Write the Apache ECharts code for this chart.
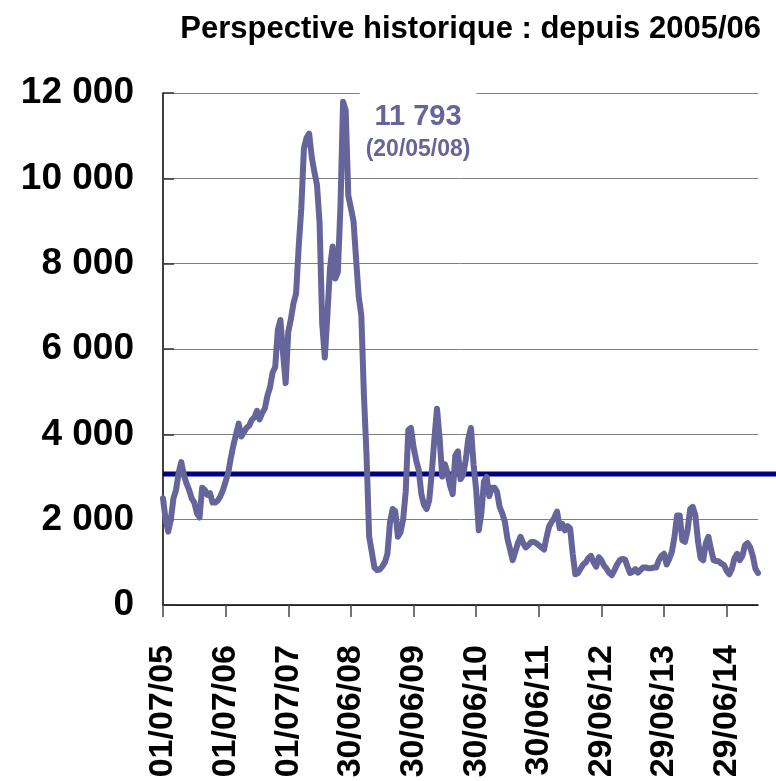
<!DOCTYPE html>
<html lang="fr">
<head>
    <meta charset="UTF-8">
    <title>Perspective historique</title>
    <script src="https://cdn.jsdelivr.net/npm/echarts@6/dist/echarts.min.js"></script>
    <style>
        html, body { margin: 0; padding: 0; background: #fff; }
        #chart { width: 776px; height: 781px; }
    </style>
</head>
<body>
<div id="chart"></div>
<script type="text/javascript">
    // valeurs, 2 points par mois (1er et 16), de juillet a juin
    var y0506 = [2500, 2000, 1720, 2000, 2500, 2700, 3100, 3350, 3050, 2850, 2700, 2500, 2400, 2150, 2050, 2750, 2700, 2580, 2620, 2400, 2400, 2450, 2550, 2700];
    var y0607 = [2900, 3100, 3450, 3750, 4000, 4250, 3950, 4050, 4150, 4200, 4340, 4400, 4550, 4350, 4500, 4600, 4900, 5100, 5450, 5580, 6450, 6680, 5900, 5200];
    var y0708 = [6400, 6700, 7070, 7300, 8400, 9300, 10700, 10950, 11050, 10500, 10150, 9850, 8950, 6600, 5800, 6800, 7900, 8400, 7650, 7800, 9350, 11793, 11600, 9600];
    var y0809 = [9300, 9000, 8100, 7230, 6780, 4900, 3500, 1600, 1250, 880, 820, 830, 900, 1000, 1200, 1950, 2250, 2200, 1600, 1700, 2000, 2650, 4100, 4150];
    var y0910 = [3700, 3400, 3160, 2600, 2350, 2250, 2450, 3100, 3900, 4600, 3900, 3010, 3300, 3100, 2800, 2600, 3500, 3600, 2950, 3050, 3400, 3900, 4150, 3300];
    var y1011 = [2700, 1750, 2150, 2900, 3000, 2550, 2750, 2750, 2650, 2300, 2150, 1950, 1550, 1300, 1050, 1250, 1450, 1600, 1450, 1350, 1400, 1470, 1480, 1450];
    var y1112 = [1400, 1350, 1300, 1600, 1850, 1950, 2050, 2190, 1800, 1900, 1750, 1850, 1800, 1200, 720, 750, 850, 950, 1000, 1100, 1150, 1000, 900, 1120];
    var y1213 = [1050, 920, 850, 750, 700, 820, 950, 1050, 1080, 1070, 900, 750, 780, 840, 760, 820, 880, 880, 860, 860, 880, 880, 1050, 1150];
    var y1314 = [1200, 950, 1080, 1250, 1600, 2100, 2100, 1520, 1480, 1750, 2250, 2300, 2100, 1500, 1100, 1050, 1450, 1600, 1300, 1050, 1030, 1020, 970, 930];
    var y1415 = [800, 720, 850, 1100, 1200, 1050, 1150, 1400, 1450, 1350, 1150, 850, 750];

    var tickLabels = ['01/07/05', '01/07/06', '01/07/07', '30/06/08', '30/06/09', '30/06/10', '30/06/11', '29/06/12', '29/06/13', '29/06/14'];
    var moyenne = 3070;
    var pic = { valeur: 11793, date: '20/05/08' };

    // assemblage
    var values = [].concat(y0506, y0607, y0708, y0809, y0910, y1011, y1112, y1213, y1314, y1415);
    var dates = [];
    for (var i = 0; i < values.length; i++) {
        var m = Math.floor(i / 2);
        var mois = (6 + m) % 12 + 1;
        var an = 5 + Math.floor((6 + m) / 12);
        dates.push((i % 2 ? '16' : '01') + '/' + (mois < 10 ? '0' : '') + mois + '/' + (an < 10 ? '0' : '') + an);
    }

    function espace(v) {
        return String(v).replace(/\B(?=(\d{3})+(?!\d))/g, ' ');
    }

    var couleurLigne = '#65659B';
    var police = 'Liberation Sans, Arial, sans-serif';

    var chart = echarts.init(document.getElementById('chart'));

    var option = {
        animation: false,
        title: {
            text: 'Perspective historique : depuis 2005/06',
            right: 10,
            top: 9,
            textStyle: { fontFamily: police, fontWeight: 'bold', fontSize: 31, color: '#000' }
        },
        grid: [
            { left: 163, top: 93, right: 18, bottom: 176 },
            { left: 163, top: 93, right: 0, bottom: 176 }
        ],
        xAxis: [
            {
                type: 'category',
                gridIndex: 0,
                data: dates,
                boundaryGap: false,
                axisLine: { lineStyle: { color: '#000', width: 1.5 } },
                axisTick: {
                    show: true,
                    length: 12,
                    interval: function (idx) { return idx % 24 === 0; },
                    lineStyle: { color: '#444', width: 1.5 }
                },
                axisLabel: {
                    interval: function (idx) { return idx % 24 === 0; },
                    formatter: function (v, idx) { return tickLabels[idx / 24] || ''; },
                    rotate: 90,
                    margin: 40,
                    fontFamily: police,
                    fontWeight: 'bold',
                    fontSize: 34,
                    color: '#000'
                },
                splitLine: { show: false }
            },
            { type: 'value', gridIndex: 1, min: 0, max: 1, show: false }
        ],
        yAxis: [
            {
                type: 'value',
                gridIndex: 0,
                min: 0,
                max: 12000,
                interval: 2000,
                axisLine: { show: true, lineStyle: { color: '#000', width: 1.5 } },
                axisTick: { show: true, inside: true, length: 11, lineStyle: { color: '#333', width: 1.5 } },
                axisLabel: {
                    margin: 29,
                    formatter: espace,
                    fontFamily: police,
                    fontWeight: 'bold',
                    fontSize: 37,
                    color: '#000'
                },
                splitLine: { lineStyle: { color: '#7f7f7f', width: 1 } }
            },
            { type: 'value', gridIndex: 1, min: 0, max: 12000, show: false }
        ],
        series: [
            {
                type: 'line',
                xAxisIndex: 1,
                yAxisIndex: 1,
                data: [[0, moyenne], [1, moyenne]],
                symbol: 'none',
                lineStyle: { color: '#000080', width: 5 },
                z: 3
            },
            {
                type: 'line',
                xAxisIndex: 0,
                yAxisIndex: 0,
                data: values,
                symbol: 'none',
                lineStyle: { color: couleurLigne, width: 6, join: 'round', cap: 'round' },
                z: 4,
                markPoint: {
                    symbol: 'circle',
                    symbolSize: 0,
                    data: [{ coord: [dates[values.indexOf(pic.valeur)], pic.valeur] }],
                    label: {
                        show: true,
                        position: 'inside',
                        offset: [75, 30],
                        backgroundColor: '#fff',
                        padding: [8, 6, 8, 6],
                        formatter: '{a|' + espace(pic.valeur) + '}\n{b|(' + pic.date + ')}',
                        rich: {
                            a: { fontFamily: police, fontWeight: 'bold', fontSize: 29, color: couleurLigne, lineHeight: 36, align: 'center' },
                            b: { fontFamily: police, fontWeight: 'bold', fontSize: 23, color: couleurLigne, lineHeight: 30, align: 'center' }
                        }
                    }
                }
            }
        ]
    };

    chart.setOption(option);
</script>
</body>
</html>
